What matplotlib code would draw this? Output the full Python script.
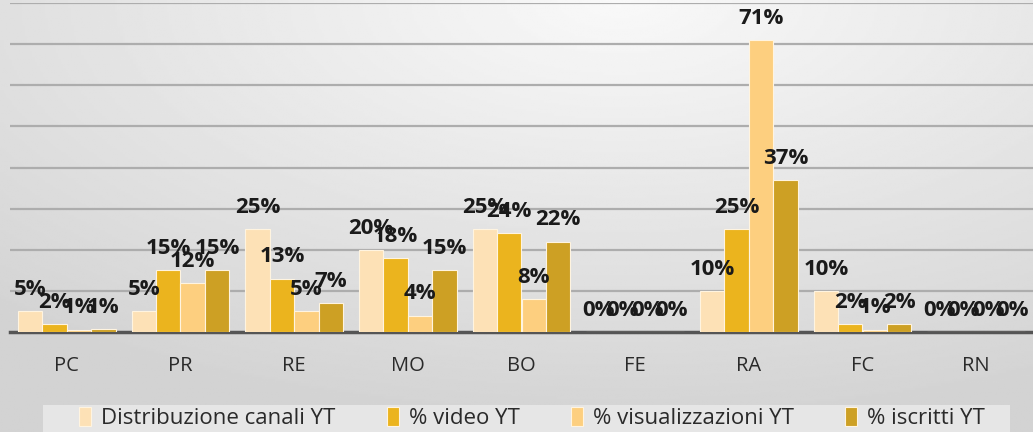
import numpy as np
import matplotlib.pyplot as plt
from matplotlib.patches import Rectangle

# -------------------------------
# data (percent)
# -------------------------------
categories = ["PC", "PR", "RE", "MO", "BO", "FE", "RA", "FC", "RN"]
series_names = ["Distribuzione canali YT", "% video YT",
                "% visualizzazioni YT", "% iscritti YT"]
distribuzione = [5, 5, 25, 20, 25, 0, 10, 10, 0]
video = [2, 15, 13, 18, 24, 0, 25, 2, 0]
visualizzazioni = [0.6, 12, 5, 4, 8, 0, 71, 0.6, 0]
iscritti = [0.7, 15, 7, 15, 22, 0, 37, 2, 0]

colors = ["#fde1b6", "#ebb41e", "#fdcf7f", "#cda024"]

plt.rcParams["font.family"] = ["Open Sans", "DejaVu Sans"]

fig = plt.figure(figsize=(10.33, 4.32), dpi=100)

# light gray radial background
bg = fig.add_axes([0, 0, 1, 1], zorder=-10)
yy, xx = np.mgrid[0:1:200j, 0:1:400j]
r = np.sqrt(((xx - 0.6) * 1.1) ** 2 + ((yy - 0.0) * 1.0) ** 2)
shade = 0.975 - 0.15 * np.clip(r, 0, 1)
bg.imshow(shade, cmap="gray", vmin=0, vmax=1, aspect="auto",
          extent=[0, 1, 1, 0])
bg.axis("off")

ax = fig.add_axes([10 / 1033, 100 / 432, 1023 / 1033, 329 / 432])
ax.set_facecolor("none")

x = np.arange(len(categories))
w = 0.215
all_series = [distribuzione, video, visualizzazioni, iscritti]
for i, (vals, col, name) in enumerate(zip(all_series, colors, series_names)):
    pos = x + (i - 1.5) * w
    ax.bar(pos, vals, w, color=col, edgecolor="#fff4e0", linewidth=0.8,
           label=name, zorder=3)
    for px, v in zip(pos, vals):
        ax.annotate(f"{v:.0f}%", (px, v), xytext=(0, 8),
                    textcoords="offset points", ha="center", va="bottom",
                    fontsize=16, fontweight="bold", color="#1a1a1a",
                    zorder=5)

ax.set_xlim(-0.5, len(categories) - 0.5)
ax.set_ylim(0, 80)
ax.set_yticks(np.arange(10, 81, 10))
ax.yaxis.grid(True, color="#adadad", linewidth=1.6, zorder=0)
ax.tick_params(axis="y", left=False, labelleft=False)
ax.tick_params(axis="x", length=0, labelsize=14.5, colors="#2a2a2a", pad=17)
ax.set_xticks(x)
ax.set_xticklabels(categories)
for s in ["top", "right", "left"]:
    ax.spines[s].set_visible(False)
ax.spines["bottom"].set_color("#555555")
ax.spines["bottom"].set_linewidth(2.5)
ax.set_axisbelow(True)

# legend strip
fig.patches.append(Rectangle((43 / 1033, -0.02), 967 / 1033, 36 / 432,
                             transform=fig.transFigure,
                             facecolor="#e6e6e6", edgecolor="none",
                             zorder=-5))
fig.legend(loc="center", bbox_to_anchor=(0.515, 14 / 432), ncol=4,
           frameon=False, fontsize=16, handlelength=0.55, handleheight=0.9,
           handletextpad=0.45, columnspacing=2.3, labelcolor="#2a2a2a")

fig.savefig("out.png", dpi=100)
